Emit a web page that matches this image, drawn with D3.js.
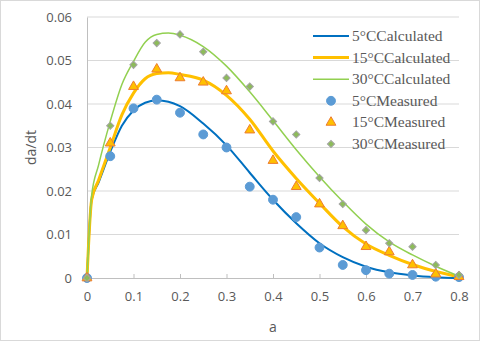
<!DOCTYPE html>
<html>
<head>
<meta charset="utf-8">
<script src="https://cdn.jsdelivr.net/npm/d3@7"></script>
<style>
  body { margin: 0; background: #fff; }
  svg { display: block; }
</style>
</head>
<body>
<div id="mychart"></div>
<script>
// measured points
const measA = [0, 0.05, 0.1, 0.15, 0.2, 0.25, 0.3, 0.35, 0.4, 0.45, 0.5, 0.55, 0.6, 0.65, 0.7, 0.75, 0.8];
const meas5 = [0, 0.028, 0.039, 0.041, 0.038, 0.033, 0.030, 0.021, 0.018, 0.014, 0.007, 0.003, 0.0018, 0.001, 0.0007, 0.0003, 0.0002];
const meas15 = [0, 0.031, 0.044, 0.048, 0.046, 0.045, 0.043, 0.034, 0.027, 0.021, 0.017, 0.012, 0.0072, 0.006, 0.003, 0.0009, 0.0003];
const meas30 = [0, 0.035, 0.049, 0.054, 0.056, 0.052, 0.046, 0.044, 0.036, 0.033, 0.023, 0.017, 0.011, 0.008, 0.0072, 0.003, 0.0007];

// calculated curves
const calcA = [0, 0.01, 0.025, 0.05, 0.075, 0.1, 0.125, 0.15, 0.175, 0.2, 0.25, 0.3, 0.35, 0.4, 0.45, 0.5, 0.55, 0.6, 0.65, 0.7, 0.75, 0.8];
const calc5 = [0, 0.018, 0.022, 0.029, 0.035, 0.0385, 0.0403, 0.0408, 0.0405, 0.0395, 0.0355, 0.0305, 0.0242, 0.018, 0.0126, 0.008, 0.0048, 0.0026, 0.0013, 0.0006, 0.0002, 0];
const calc15 = [0, 0.018, 0.0225, 0.030, 0.0375, 0.0425, 0.0458, 0.047, 0.0472, 0.0468, 0.0455, 0.042, 0.0365, 0.0292, 0.0229, 0.0172, 0.0118, 0.0078, 0.0052, 0.0031, 0.0015, 0.0003];
const calc30 = [0, 0.019, 0.026, 0.036, 0.0445, 0.0498, 0.0542, 0.056, 0.0563, 0.0558, 0.0532, 0.0487, 0.0428, 0.0362, 0.0295, 0.0233, 0.0176, 0.0124, 0.0083, 0.0053, 0.0027, 0.0004];

const xTicks = [0, 0.1, 0.2, 0.3, 0.4, 0.5, 0.6, 0.7, 0.8];
const yTicks = [0, 0.01, 0.02, 0.03, 0.04, 0.05, 0.06];

const lineSeries = [
    { name: "5°CCalculated", values: calc5, color: "#0070C0", width: 2 },
    { name: "15°CCalculated", values: calc15, color: "#FFC000", width: 3 },
    { name: "30°CCalculated", values: calc30, color: "#92D050", width: 1.5 }
];
const pointSeries = [
    { name: "5°CMeasured", values: meas5, shape: d3.symbolCircle, size: 62, rot: 0, fill: "#5B9BD5", stroke: "#5B9BD5" },
    { name: "15°CMeasured", values: meas15, shape: d3.symbolTriangle, size: 42, rot: 0, fill: "#FFC000", stroke: "#ED7D31" },
    { name: "30°CMeasured", values: meas30, shape: d3.symbolSquare, size: 26, rot: 45, fill: "#8DBB5A", stroke: "#A5A5A5" }
];

const width = 480;
const height = 341;
const margin = { top: 17, right: 21, bottom: 63, left: 87 };

const svg = d3.select("#mychart")
    .append("svg")
    .attr("width", width)
    .attr("height", height);

// outer border
svg.append("rect")
    .attr("x", 0.5).attr("y", 0.5)
    .attr("width", width - 1).attr("height", height - 1)
    .attr("fill", "#fff")
    .attr("stroke", "#d9d9d9");

const x = d3.scaleLinear().domain([0, 0.8]).range([margin.left, width - margin.right]);
const y = d3.scaleLinear().domain([0, 0.06]).range([height - margin.bottom, margin.top]);

// gridlines
svg.append("g")
    .selectAll("line")
    .data(yTicks.slice(1))
    .enter()
    .append("line")
    .attr("x1", x(0)).attr("x2", x(0.8))
    .attr("y1", d => y(d)).attr("y2", d => y(d))
    .attr("stroke", "#d9d9d9")
    .attr("stroke-width", 1);

// y axis
const yAxis = svg.append("g")
    .attr("transform", `translate(${x(0)},0)`)
    .call(d3.axisLeft(y).tickValues(yTicks).tickSize(0).tickPadding(15)
        .tickFormat(d => d === 0 ? "0" : d3.format(".2f")(d)));
yAxis.select(".domain").attr("stroke", "#bfbfbf");
yAxis.selectAll("text")
    .attr("font-family", "Open Sans, Liberation Sans, sans-serif")
    .attr("font-size", 13)
    .attr("fill", "#595959");

// x axis
const xAxis = svg.append("g")
    .attr("transform", `translate(0,${y(0)})`)
    .call(d3.axisBottom(x).tickValues(xTicks).tickSizeInner(-4).tickSizeOuter(0).tickPadding(14)
        .tickFormat(d => d === 0 ? "0" : d3.format(".1f")(d)));
xAxis.select(".domain").attr("stroke", "#bfbfbf");
xAxis.selectAll("line").attr("stroke", "#bfbfbf");
xAxis.selectAll("text")
    .attr("font-family", "Open Sans, Liberation Sans, sans-serif")
    .attr("font-size", 13)
    .attr("fill", "#595959");

// axis titles
svg.append("text")
    .attr("transform", `translate(36,${(y(0) + y(0.06)) / 2}) rotate(-90)`)
    .attr("text-anchor", "middle")
    .attr("font-family", "Open Sans, Liberation Sans, sans-serif")
    .attr("font-size", 14)
    .attr("fill", "#595959")
    .text("da/dt");

svg.append("text")
    .attr("x", (x(0) + x(0.8)) / 2)
    .attr("y", 332)
    .attr("text-anchor", "middle")
    .attr("font-family", "Open Sans, Liberation Sans, sans-serif")
    .attr("font-size", 14)
    .attr("fill", "#595959")
    .text("a");

// curves
const line = d3.line()
    .x((d, i) => x(calcA[i]))
    .y(d => y(d))
    .curve(d3.curveMonotoneX);

lineSeries.forEach(s => {
    svg.append("path")
        .datum(s.values)
        .attr("fill", "none")
        .attr("stroke", s.color)
        .attr("stroke-width", s.width)
        .attr("d", line);
});

// markers
pointSeries.forEach(s => {
    svg.append("g")
        .selectAll("path")
        .data(s.values)
        .enter()
        .append("path")
        .attr("transform", (d, i) => `translate(${x(measA[i])},${y(d)}) rotate(${s.rot})`)
        .attr("d", d3.symbol().type(s.shape).size(s.size))
        .attr("fill", s.fill)
        .attr("stroke", s.stroke)
        .attr("stroke-width", 1);
});

// legend
const legend = svg.append("g");
const lx1 = 313, lx2 = 349, ly0 = 36, lstep = 21.6;
const allSeries = lineSeries.concat(pointSeries);

allSeries.forEach((s, i) => {
    const yy = ly0 + i * lstep;
    if (s.color) {
        legend.append("line")
            .attr("x1", lx1).attr("x2", lx2)
            .attr("y1", yy).attr("y2", yy)
            .attr("stroke", s.color)
            .attr("stroke-width", s.width);
    } else {
        legend.append("path")
            .attr("transform", `translate(${(lx1 + lx2) / 2},${yy}) rotate(${s.rot})`)
            .attr("d", d3.symbol().type(s.shape).size(s.size))
            .attr("fill", s.fill)
            .attr("stroke", s.stroke);
    }
    legend.append("text")
        .attr("x", lx2 + 3)
        .attr("y", yy + 5)
        .attr("font-family", "Liberation Serif, DejaVu Serif, serif")
        .attr("font-size", 15.5)
        .attr("fill", "#595959")
        .text(s.name);
});
</script>
</body>
</html>
